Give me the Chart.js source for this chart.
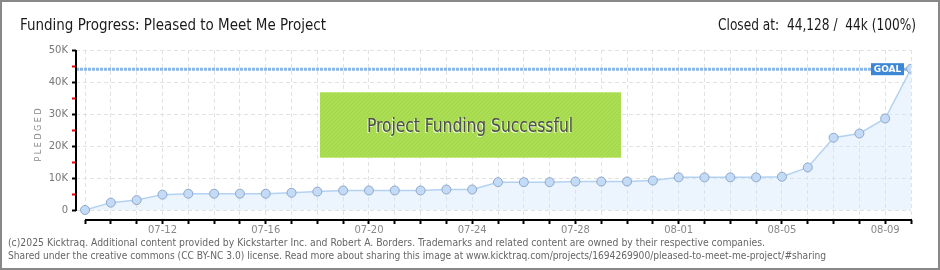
<!DOCTYPE html>
<html>
<head>
<meta charset="utf-8">
<script src="https://cdn.jsdelivr.net/npm/chart.js@4"></script>
<style>
  html, body { margin: 0; padding: 0; background: #fff; }
  #wrap { width: 940px; height: 270px; }
</style>
</head>
<body>
<div id="wrap"><canvas id="fundingChart" width="940" height="270"></canvas></div>
<script>
// Daily pledged totals (07-09 .. 08-10)
const dates = [
  '07-09', '07-10', '07-11', '07-12', '07-13', '07-14', '07-15', '07-16', '07-17', '07-18', '07-19',
  '07-20', '07-21', '07-22', '07-23', '07-24', '07-25', '07-26', '07-27', '07-28', '07-29', '07-30',
  '07-31', '08-01', '08-02', '08-03', '08-04', '08-05', '08-06', '08-07', '08-08', '08-09', '08-10'
];
const pledged = [
  0, 2300, 3100, 4800, 5100, 5100, 5100, 5100, 5400, 5750, 6100,
  6100, 6100, 6100, 6400, 6400, 8700, 8700, 8700, 8900, 8900, 8900,
  9200, 10200, 10200, 10200, 10200, 10400, 13300, 22600, 23900, 28600, 44128
];
const goal = 44000;
const yTicks = [0, 5000, 10000, 15000, 20000, 25000, 30000, 35000, 40000, 45000, 50000];

const titleText = 'Funding Progress: Pleased to Meet Me Project';
const closedText = 'Closed at:  44,128 /  44k (100%)';
const bannerText = 'Project Funding Successful';
const footerLines = [
  '(c)2025 Kicktraq. Additional content provided by Kickstarter Inc. and Robert A. Borders. Trademarks and related content are owned by their respective companies.',
  'Shared under the creative commons (CC BY-NC 3.0) license. Read more about sharing this image at www.kicktraq.com/projects/1694269900/pleased-to-meet-me-project/#sharing'
];

const xMin = -0.35;
const narrow = "'Liberation Sans Narrow', 'DejaVu Sans Condensed', 'Roboto Condensed', sans-serif";

// striped fill for the green banner
function stripePattern(ctx) {
  const c = document.createElement('canvas');
  c.width = 4; c.height = 4;
  const p = c.getContext('2d');
  p.fillStyle = 'rgba(166,220,72,0.93)';
  p.fillRect(0, 0, 4, 4);
  p.fillStyle = 'rgba(140,200,50,0.35)';
  p.fillRect(3, 0, 1, 1); p.fillRect(2, 1, 1, 1); p.fillRect(1, 2, 1, 1); p.fillRect(0, 3, 1, 1);
  return ctx.createPattern(c, 'repeat');
}

const decorations = {
  id: 'decorations',
  beforeDraw(chart) {
    const ctx = chart.ctx;
    ctx.save();
    ctx.fillStyle = '#fff';
    ctx.fillRect(0, 0, chart.width, chart.height);
    ctx.restore();
  },
  afterDraw(chart) {
    const ctx = chart.ctx;
    const x = chart.scales.x;
    const y = chart.scales.y;
    const area = chart.chartArea;
    ctx.save();

    // axis lines
    ctx.strokeStyle = '#000';
    ctx.lineWidth = 2;
    ctx.beginPath();
    ctx.moveTo(area.left, y.getPixelForValue(50000));
    ctx.lineTo(area.left, y.getPixelForValue(0) + 1);
    ctx.moveTo(x.getPixelForValue(0), area.bottom);
    ctx.lineTo(area.right + 1, area.bottom);
    ctx.stroke();

    // banner
    ctx.fillStyle = stripePattern(ctx);
    ctx.fillRect(320, 92, 301, 66);
    ctx.fillStyle = 'rgba(200,235,140,0.8)';
    ctx.fillRect(320, 92, 301, 1);
    ctx.fillRect(320, 157, 301, 1);
    ctx.font = '20px ' + narrow;
    ctx.textAlign = 'center';
    ctx.textBaseline = 'alphabetic';
    ctx.fillStyle = 'rgba(255,255,255,0.8)';
    ctx.fillText(bannerText, 469, 133, 206);
    ctx.fillStyle = '#4e4e4e';
    ctx.fillText(bannerText, 470, 132, 206);

    // goal tag
    const gx = x.getPixelForValue(dates.length - 1) - 7;
    const gy = y.getPixelForValue(goal);
    ctx.fillStyle = '#3b86d5';
    ctx.fillRect(gx - 33, gy - 6, 33, 12);
    ctx.fillStyle = '#fff';
    ctx.font = 'bold 9px DejaVu Sans';
    ctx.textAlign = 'center';
    ctx.textBaseline = 'middle';
    ctx.fillText('GOAL', gx - 16.5, gy + 0.5);

    // header
    ctx.fillStyle = '#1a1a1a';
    ctx.font = '16px ' + narrow;
    ctx.textBaseline = 'alphabetic';
    ctx.textAlign = 'left';
    ctx.fillText(titleText, 20, 30, 306);
    ctx.textAlign = 'right';
    ctx.fillText(closedText, 916, 30, 198);

    // footer
    ctx.fillStyle = '#666';
    ctx.font = '11px ' + narrow;
    ctx.textAlign = 'left';
    ctx.fillText(footerLines[0], 8, 246, 757);
    ctx.fillText(footerLines[1], 8, 259, 818);

    // frame
    ctx.strokeStyle = '#888';
    ctx.lineWidth = 2;
    ctx.strokeRect(1, 1, chart.width - 2, chart.height - 2);
    ctx.restore();
  }
};

const ctx = document.getElementById('fundingChart').getContext('2d');
const fundingChart = new Chart(ctx, {
  type: 'line',
  data: {
    datasets: [
      {
        label: 'Pledged',
        data: pledged.map((v, i) => ({ x: i, y: v })),
        borderColor: '#b3d2f2',
        backgroundColor: 'rgba(205,226,250,0.38)',
        borderWidth: 1.5,
        fill: 'origin',
        tension: 0,
        pointRadius: 4.5,
        pointBackgroundColor: '#c3dbf6',
        pointBorderColor: '#8fa8c8',
        pointBorderWidth: 1,
      },
      {
        label: 'Goal',
        data: [{ x: xMin, y: goal }, { x: dates.length - 1, y: goal }],
        borderColor: '#8ab6e8',
        borderWidth: 3,
        borderDash: [3, 1],
        pointRadius: 0,
        fill: false,
      },
    ],
  },
  options: {
    responsive: false,
    animation: false,
    events: [],
    layout: { padding: { top: 50, right: 29, left: 0, bottom: 0 } },
    plugins: {
      legend: { display: false },
      tooltip: { enabled: false },
    },
    scales: {
      x: {
        type: 'linear',
        min: xMin,
        max: dates.length - 1,
        afterBuildTicks: scale => { scale.ticks = dates.map((d, i) => ({ value: i })); },
        afterFit: scale => { scale.height = 50; },
        border: { display: false, dash: [4, 3] },
        grid: {
          color: '#e2e2e2',
          tickColor: '#000',
          tickLength: 4,
          tickWidth: 2,
          tickBorderDash: [],
        },
        ticks: {
          autoSkip: false,
          maxRotation: 0,
          padding: 0,
          color: '#888',
          font: { family: 'DejaVu Sans', size: 10 },
          callback: (value, index) => (index % 4 === 3 ? dates[index] : ''),
        },
      },
      y: {
        min: -3125,
        max: 50000,
        afterBuildTicks: scale => { scale.ticks = yTicks.map(v => ({ value: v })); },
        afterFit: scale => { scale.width = 76; },
        border: { display: false, dash: [4, 3] },
        grid: {
          color: c => (c.tick && c.tick.value % 10000 === 0 ? '#e2e2e2' : 'rgba(0,0,0,0)'),
          tickColor: c => (c.tick && c.tick.value % 10000 === 0 ? '#000' : '#e00'),
          tickLength: 4,
          tickWidth: 2,
          tickBorderDash: [],
        },
        ticks: {
          padding: 4,
          color: '#777',
          font: { family: 'DejaVu Sans', size: 10 },
          callback: value => (value % 10000 === 0 ? (value ? value / 1000 + 'K' : '0') : ''),
        },
        title: {
          display: true,
          text: 'P L E D G E D',
          color: '#888',
          font: { family: 'DejaVu Sans', size: 8 },
          padding: { top: 34, bottom: 0 },
        },
      },
    },
  },
  plugins: [decorations],
});
</script>
</body>
</html>
